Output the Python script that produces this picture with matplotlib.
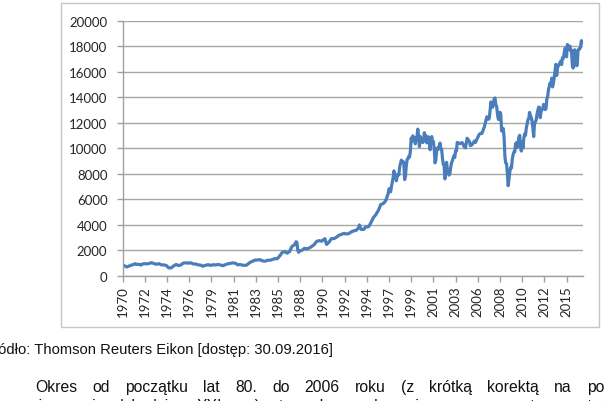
import matplotlib
matplotlib.use("Agg")
import matplotlib.pyplot as plt
from matplotlib.patches import Rectangle

# -------------------------
# Data: month-end closes (index level)
# -------------------------
dates = [
    "1970-01", "1970-03", "1970-06", "1970-09", "1970-12",
    "1971-03", "1971-04", "1971-06", "1971-09", "1971-11", "1971-12",
    "1972-03", "1972-06", "1972-09", "1972-12",
    "1973-01", "1973-03", "1973-06", "1973-09", "1973-12",
    "1974-03", "1974-06", "1974-09", "1974-12",
    "1975-03", "1975-06", "1975-09", "1975-12",
    "1976-03", "1976-06", "1976-09", "1976-12",
    "1977-03", "1977-06", "1977-09", "1977-12",
    "1978-02", "1978-06", "1978-09", "1978-12",
    "1979-03", "1979-06", "1979-09", "1979-12",
    "1980-03", "1980-06", "1980-09", "1980-12",
    "1981-03", "1981-06", "1981-09", "1981-12",
    "1982-03", "1982-07", "1982-09", "1982-12",
    "1983-03", "1983-06", "1983-09", "1983-12",
    "1984-03", "1984-06", "1984-09", "1984-12",
    "1985-03", "1985-06", "1985-09", "1985-12",
    "1986-03", "1986-06", "1986-09", "1986-12",
    "1987-03", "1987-06", "1987-08", "1987-09", "1987-10", "1987-11", "1987-12",
    "1988-03", "1988-06", "1988-09", "1988-12",
    "1989-03", "1989-06", "1989-09", "1989-12",
    "1990-03", "1990-07", "1990-09", "1990-12",
    "1991-03", "1991-06", "1991-09", "1991-12",
    "1992-03", "1992-06", "1992-09", "1992-12",
    "1993-03", "1993-06", "1993-09", "1993-12",
    "1994-01", "1994-03", "1994-06", "1994-09", "1994-12",
    "1995-03", "1995-06", "1995-09", "1995-12",
    "1996-03", "1996-06", "1996-09", "1996-12",
    "1997-01", "1997-03", "1997-04", "1997-06", "1997-07", "1997-08", "1997-09", "1997-10", "1997-11", "1997-12",
    "1998-01", "1998-02", "1998-03", "1998-04", "1998-05", "1998-06", "1998-07", "1998-08", "1998-09", "1998-10", "1998-11", "1998-12",
    "1999-01", "1999-02", "1999-03", "1999-04", "1999-05", "1999-06", "1999-07", "1999-08", "1999-09", "1999-10", "1999-11", "1999-12",
    "2000-01", "2000-02", "2000-03", "2000-04", "2000-05", "2000-06", "2000-07", "2000-08", "2000-09", "2000-10", "2000-11", "2000-12",
    "2001-01", "2001-02", "2001-03", "2001-04", "2001-05", "2001-06", "2001-07", "2001-08", "2001-09", "2001-10", "2001-11", "2001-12",
    "2002-01", "2002-02", "2002-03", "2002-04", "2002-05", "2002-06", "2002-07", "2002-08", "2002-09", "2002-10", "2002-11", "2002-12",
    "2003-01", "2003-02", "2003-03", "2003-04", "2003-05", "2003-06", "2003-07", "2003-08", "2003-09", "2003-10", "2003-11", "2003-12",
    "2004-03", "2004-06", "2004-08", "2004-09", "2004-10", "2004-12",
    "2005-03", "2005-04", "2005-06", "2005-09", "2005-10", "2005-12",
    "2006-03", "2006-05", "2006-06", "2006-09", "2006-12",
    "2007-02", "2007-03", "2007-05", "2007-06", "2007-07", "2007-09", "2007-10", "2007-11", "2007-12",
    "2008-01", "2008-02", "2008-03", "2008-04", "2008-05", "2008-06", "2008-07", "2008-08", "2008-09", "2008-10", "2008-11", "2008-12",
    "2009-01", "2009-02", "2009-03", "2009-04", "2009-05", "2009-06", "2009-07", "2009-08", "2009-09", "2009-10", "2009-11", "2009-12",
    "2010-01", "2010-02", "2010-03", "2010-04", "2010-05", "2010-06", "2010-07", "2010-08", "2010-09", "2010-10", "2010-11", "2010-12",
    "2011-01", "2011-02", "2011-03", "2011-04", "2011-05", "2011-06", "2011-07", "2011-08", "2011-09", "2011-10", "2011-11", "2011-12",
    "2012-01", "2012-02", "2012-03", "2012-04", "2012-05", "2012-06", "2012-07", "2012-08", "2012-09", "2012-10", "2012-11", "2012-12",
    "2013-01", "2013-02", "2013-03", "2013-04", "2013-05", "2013-06", "2013-07", "2013-08", "2013-09", "2013-10", "2013-11", "2013-12",
    "2014-01", "2014-02", "2014-03", "2014-04", "2014-05", "2014-06", "2014-07", "2014-08", "2014-09", "2014-10", "2014-11", "2014-12",
    "2015-01", "2015-02", "2015-03", "2015-04", "2015-05", "2015-06", "2015-07", "2015-08", "2015-09", "2015-10", "2015-11", "2015-12",
    "2016-01", "2016-02", "2016-03", "2016-04", "2016-05", "2016-06", "2016-07", "2016-08", "2016-09",
]

closes = [
    744, 786, 684, 761, 839,
    904, 942, 891, 887, 831, 890,
    941, 929, 953, 1020,
    999, 951, 892, 947, 851,
    847, 802, 608, 616,
    768, 879, 794, 852,
    999, 1003, 990, 1005,
    919, 916, 847, 831,
    742, 819, 866, 805,
    862, 842, 879, 839,
    786, 868, 932, 964,
    1004, 977, 850, 875,
    823, 809, 896, 1047,
    1130, 1222, 1233, 1259,
    1165, 1132, 1207, 1212,
    1267, 1335, 1329, 1547,
    1819, 1893, 1768, 1896,
    2305, 2419, 2663, 2596, 1994, 1834, 1939,
    1988, 2142, 2113, 2169,
    2294, 2440, 2693, 2753,
    2707, 2905, 2452, 2634,
    2914, 2907, 3017, 3169,
    3235, 3319, 3272, 3301,
    3435, 3516, 3555, 3754,
    3978, 3636, 3625, 3843, 3834,
    4158, 4556, 4789, 5117,
    5587, 5655, 5882, 6448,
    6813, 6583, 7009, 7673, 8223, 7622, 7945, 7442, 7823, 7908,
    7907, 8546, 8800, 9063, 8900, 8952, 8883, 7539, 7843, 8592, 9117, 9181,
    9359, 9307, 9786, 10789, 10560, 10971, 10655, 10829, 10337, 10729, 10878, 11497,
    10941, 10128, 10922, 10734, 10522, 10448, 10522, 11215, 10651, 10971, 10415, 10788,
    10887, 10495, 9879, 10735, 10912, 10502, 10523, 9950, 8848, 9075, 9852, 10022,
    9920, 10106, 10404, 9946, 9925, 9243, 8737, 8664, 7592, 8397, 8896, 8342,
    8054, 7891, 7992, 8480, 8850, 8985, 9234, 9416, 9275, 9801, 9782, 10454,
    10358, 10435, 10174, 10080, 10027, 10783,
    10504, 10193, 10275, 10569, 10440, 10718,
    11109, 11168, 11150, 11679, 12463,
    12269, 12354, 13628, 13409, 13212, 13896, 13930, 13372, 13265,
    12650, 12266, 12263, 12820, 12638, 11350, 11378, 11544, 10851, 9325, 8829, 8776,
    8001, 7063, 7609, 8168, 8500, 8447, 9172, 9496, 9712, 9713, 10345, 10428,
    10067, 10325, 10857, 11009, 10137, 9774, 10466, 10015, 10788, 11118, 11006, 11578,
    11892, 12226, 12320, 12811, 12570, 12414, 12143, 11614, 10913, 11955, 12046, 12218,
    12633, 12952, 13212, 13214, 12393, 12880, 13009, 13091, 13437, 13096, 13026, 13104,
    13861, 14054, 14579, 14840, 15116, 14910, 15500, 14810, 15130, 15546, 16086, 16577,
    15699, 16322, 16458, 16581, 16717, 16827, 16563, 17098, 17043, 17391, 17828, 17823,
    17165, 18133, 17776, 17841, 18011, 17620, 17690, 16528, 16285, 17664, 17720, 17425,
    16466, 16517, 17685, 17774, 17787, 17930, 18432, 18401, 18308,
]

tick_labels = ["1970", "1972", "1974", "1976", "1979", "1981", "1983", "1985",
               "1988", "1990", "1992", "1994", "1997", "1999", "2001", "2003",
               "2006", "2008", "2010", "2012", "2015"]

source_text = "Źródło: Thomson Reuters Eikon [dostęp: 30.09.2016]"
para_line1 = "Okres od początku lat 80. do 2006 roku (z krótką korektą na po"
para_line2 = "w pierwszej dekadzie XXI w.) to okres dynamicznego wzrostu wartości"

# month index on a monthly category axis starting Jan 1970
x = [(int(d[:4]) - 1970) * 12 + int(d[5:]) - 1 for d in dates]

W, H = 604, 402
fig = plt.figure(figsize=(W / 100, H / 100), dpi=100)

# chart frame
fig.patches.append(Rectangle((61 / W, 1 - 328 / H), (599 - 61) / W, (328 - 4) / H,
                             transform=fig.transFigure, fill=False,
                             ec="#c6c6c6", lw=1.0))

ax = fig.add_axes([122.7 / W, 1 - 276.7 / H, (583 - 122.7) / W, (276.7 - 21.7) / H])
ax.plot(x, closes, color="#4a7ebb", lw=2.3, solid_joinstyle="round")

ax.set_xlim(0, 560)
ax.set_ylim(0, 20000)
ax.set_yticks(range(0, 20001, 2000))
ax.set_xticks(range(0, 541, 27))
ax.set_xticklabels(tick_labels, rotation=90)

ax.grid(axis="y", color="#a6a6a6", lw=1.0)
ax.set_axisbelow(True)
for s in ["top", "right"]:
    ax.spines[s].set_visible(False)
for s in ["left", "bottom"]:
    ax.spines[s].set_color("#a0a0a0")
    ax.spines[s].set_linewidth(1.0)
ax.tick_params(axis="y", length=4, width=1, color="#a0a0a0", pad=7,
               labelsize=9.5, labelcolor="#262626")
ax.tick_params(axis="x", length=4, width=1, color="#a0a0a0", pad=3,
               labelsize=9.5, labelcolor="#262626")
for lab in ax.get_xticklabels() + ax.get_yticklabels():
    lab.set_fontfamily("Lato")

# source line, its first letters fall off the left edge
fig.text(333 / W, 1 - 354 / H, source_text, ha="right", va="baseline",
         fontsize=10.6, family="Liberation Sans", color="#111111")

renderer = fig.canvas.get_renderer()


def justify(line, x0, x1, baseline):
    # place words with even gaps so the line fills x0..x1 (pixels)
    words = line.split(" ")
    arts, widths = [], []
    for w in words:
        t = fig.text(0, 0, w, fontsize=11.3, family="Liberation Sans",
                     color="#111111", va="baseline", ha="left")
        widths.append(t.get_window_extent(renderer).width)
        arts.append(t)
    gap = (x1 - x0 - sum(widths)) / (len(words) - 1)
    pos = x0
    for t, wd in zip(arts, widths):
        t.set_position((pos / W, 1 - baseline / H))
        pos += wd + gap


justify(para_line1, 35.6, 604.0, 392)
# second line: only the top of its letters shows at the bottom edge
justify(para_line2, 0.0, 620.0, 411)

fig.savefig("out.png", dpi=100)
